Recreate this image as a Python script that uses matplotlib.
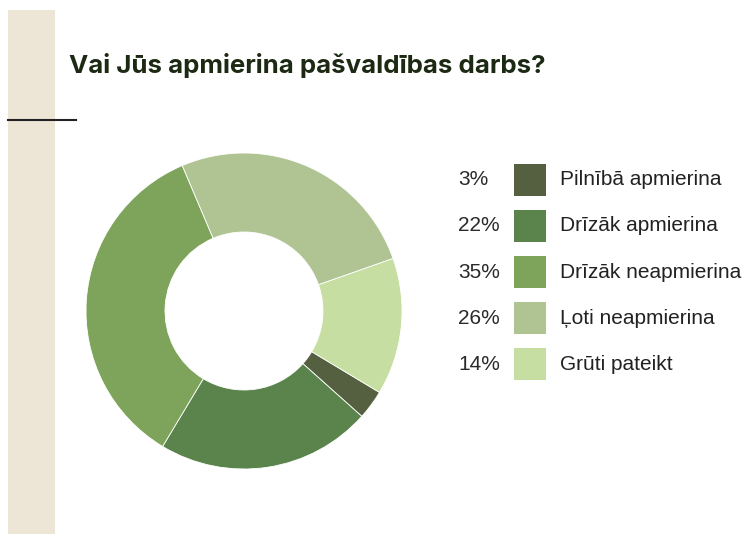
import matplotlib.pyplot as plt
from matplotlib.patches import Rectangle

title = 'Vai Jūs apmierina pašvaldības darbs?'
labels = ['Pilnībā apmierina', 'Drīzāk apmierina', 'Drīzāk neapmierina',
          'Ļoti neapmierina', 'Grūti pateikt']
shares = [3, 22, 35, 26, 14]
colors = ['#556040', '#5a844c', '#7ea35a', '#b0c493', '#c6dea1']

W, H = 744, 534
fig = plt.figure(figsize=(W / 100, H / 100), dpi=100)
fig.patch.set_facecolor('white')

# beige side band and short rule
fig.patches.append(Rectangle((8 / W, 0), 47 / W, 1 - 10 / H, transform=fig.transFigure,
                             facecolor='#ede5d5', edgecolor='none', zorder=0))
fig.add_artist(plt.Line2D([8 / W, 76 / W], [1 - 120 / H, 1 - 120 / H], transform=fig.transFigure,
                          color='#222222', linewidth=1.5))

fig.text(69 / W, 1 - 66 / H, title, fontsize=18.6, fontweight='bold', family='Inter',
         color='#1c2a14', va='center', ha='left')

# donut
r = 158
cx, cy = 244, 311
ax = fig.add_axes([(cx - r) / W, 1 - (cy + r) / H, 2 * r / W, 2 * r / H])
ax.pie(shares, colors=colors, startangle=-31, counterclock=False,
       wedgeprops=dict(width=0.5, edgecolor='white', linewidth=0.6))
ax.set_aspect('equal')
ax.set_xlim(-1, 1)
ax.set_ylim(-1, 1)
ax.axis('off')

# legend
for i, (lab, val, col) in enumerate(zip(labels, shares, colors)):
    y = 1 - (180 + 46 * i) / H
    fig.text(458 / W, y, f'{val}%', fontsize=15, family='Liberation Sans',
             color='#2a2a2a', va='center', ha='left')
    fig.patches.append(Rectangle((514 / W, y - 16 / H), 32 / W, 32 / H, transform=fig.transFigure,
                                 facecolor=col, edgecolor='none'))
    fig.text(560 / W, y, lab, fontsize=15, family='Liberation Sans',
             color='#222222', va='center', ha='left')

fig.savefig('out.png', dpi=100)
